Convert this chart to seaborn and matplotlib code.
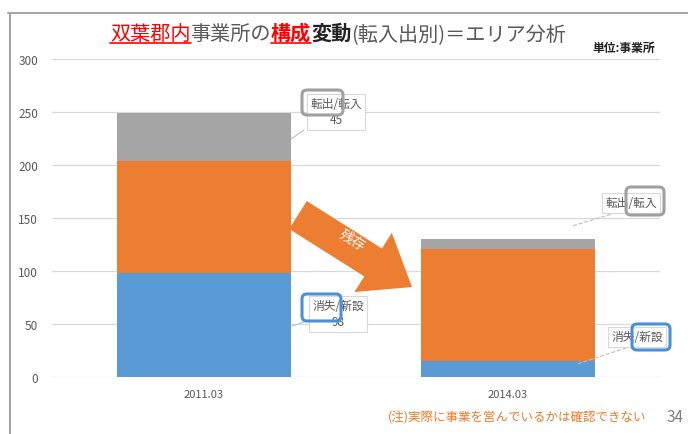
import matplotlib
matplotlib.use("Agg")
import matplotlib.pyplot as plt
import matplotlib.patches as mpatches
from matplotlib.lines import Line2D
import seaborn as sns

# data
periods = ["2011.03", "2014.03"]
vanished = [98, 15]      # 消失/新設
survived = [106, 106]    # 残存
moved = [45, 9]          # 転出/転入
yticks = [0, 50, 100, 150, 200, 250, 300]

blue = "#5B9BD5"
orange = "#ED7D31"
gray = "#A5A5A5"
txt = "#595959"

W, H = 688, 435
sns.set_theme(style="white")
plt.rcParams["font.family"] = ["Noto Sans CJK JP", "DejaVu Sans"]

fig = plt.figure(figsize=(W / 100, H / 100), dpi=100)
ax = fig.add_axes([52 / W, 1 - 378 / H, (660 - 52) / W, (378 - 60) / H])

lvl2 = [a + b for a, b in zip(vanished, survived)]
total = [a + b for a, b in zip(lvl2, moved)]
bar = dict(width=0.57, saturation=1, ax=ax, zorder=3, linewidth=0, edgecolor="none")
sns.barplot(x=periods, y=total, color=gray, **bar)
sns.barplot(x=periods, y=lvl2, color=orange, **bar)
sns.barplot(x=periods, y=vanished, color=blue, **bar)

ax.set_ylim(0, 300)
ax.set_xlim(-0.5, 1.5)
ax.set_yticks(yticks)
ax.set_xlabel("")
ax.set_ylabel("")
for s in ax.spines.values():
    s.set_visible(False)
ax.grid(axis="y", color="#D9D9D9", lw=0.9, zorder=0)
ax.set_axisbelow(True)
ax.tick_params(axis="y", length=0, pad=10, labelsize=8.5, labelcolor=txt)
ax.tick_params(axis="x", length=0, pad=9, labelsize=8, labelcolor=txt)

T = fig.dpi_scale_trans


def P(x, y):
    return (x / 100, (H - y) / 100)


def line(x0, y0, x1, y1, color, lw, ls="-"):
    a, b = P(x0, y0)
    c, d = P(x1, y1)
    fig.add_artist(Line2D([a, c], [b, d], transform=T, color=color, lw=lw, ls=ls))


def rbox(x0, y0, x1, y1, color, lw=2.2):
    a, b = P(x0, y1)
    fig.add_artist(mpatches.FancyBboxPatch((a, b), (x1 - x0) / 100, (y1 - y0) / 100,
                                           boxstyle="round,pad=0,rounding_size=0.05",
                                           transform=T, fc="none", ec=color, lw=lw, zorder=6))


# outer frame
line(8, 14, 688, 14, "#A6A6A6", 1.5)
line(10, 14, 10, 435, "#A6A6A6", 1.5)

# title in pieces
renderer = fig.canvas.get_renderer()
pieces = [("双葉郡内", "#FF0000", "normal", True),
          ("事業所の", txt, "normal", False),
          ("構成", "#FF0000", "bold", True),
          ("変動", "#222222", "bold", False),
          ("(転入出別)＝エリア分析", txt, "normal", False)]
x = 110
for s, c, wgt, ul in pieces:
    t = fig.text(*P(x, 40), s, transform=T, color=c, fontsize=14.5, fontweight=wgt,
                 ha="left", va="baseline")
    bb = t.get_window_extent(renderer)
    if ul:
        line(bb.x0, 44, bb.x1, 44, c, 1.2)
    x = bb.x1

fig.text(*P(655, 48), "単位:事業所", transform=T, fontsize=8.5, fontweight="bold",
         color="#222222", ha="right", va="center")

# arrow 残存
ax.annotate("", xy=(412, H - 288), xytext=(298, H - 216), xycoords="figure pixels",
            textcoords="figure pixels",
            arrowprops=dict(arrowstyle="simple,head_length=2.3,head_width=3.5,tail_width=1.65",
                            mutation_scale=14.4, fc=orange, ec="none", shrinkA=0, shrinkB=0))
fig.text(*P(352, 241), "残存", transform=T, color="white", fontsize=10, rotation=-31,
         ha="center", va="center", rotation_mode="anchor")

# data label callouts
box = dict(boxstyle="square,pad=0.3", fc="white", ec="#D9D9D9", lw=0.8)
lab = dict(transform=T, fontsize=8.5, color=txt, ha="center", va="center", zorder=5)

fig.text(*P(336, 113), "転出/転入\n" + str(moved[0]), bbox=box, linespacing=1.3, **lab)
line(304, 131, 291, 140, "#BFBFBF", 0.8)
rbox(302, 91, 343, 116, "#A0A0A0")

fig.text(*P(631, 204), "転出/転入", bbox=box, **lab)
line(622, 212, 572, 227, "#BFBFBF", 0.8, "--")
rbox(626, 188, 664, 216, "#A0A0A0")

fig.text(*P(338, 315), "消失/新設\n" + str(vanished[0]), bbox=box, linespacing=1.3, **lab)
line(304, 323, 292, 327, "#BFBFBF", 0.8)
rbox(302, 295, 341, 322, "#4A90D9")

fig.text(*P(637, 338), "消失/新設", bbox=box, **lab)
line(632, 347, 577, 365, "#BFBFBF", 0.8, "--")
rbox(632, 325, 670, 351, "#4A90D9")

# footnote and page number
fig.text(*P(388, 418), "(注)実際に事業を営んでいるかは確認できない", transform=T,
         fontsize=9, color="#F07A28", ha="left", va="center")
fig.text(*P(667, 418), "34", transform=T, fontsize=11, color="#808080", ha="left", va="center")

fig.savefig("out.png", dpi=100)
